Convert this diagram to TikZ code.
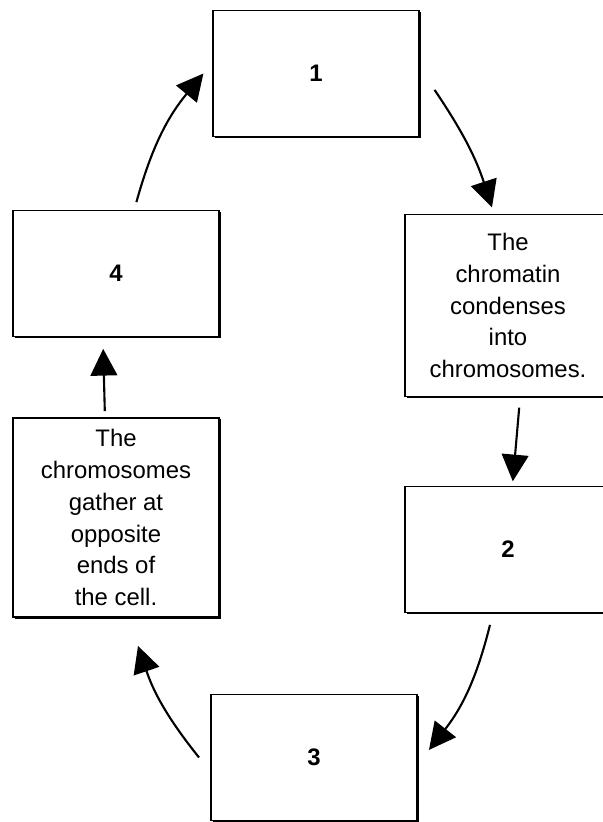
\documentclass[tikz,border=0pt]{standalone}
\usepackage{fontspec}
\setmainfont{Liberation Sans}
\usetikzlibrary{positioning,arrows.meta,shadows}

\begin{document}
\begin{tikzpicture}
	[node distance=3cm,on grid,
	 stage/.style={draw,fill=white,line width=1.1pt,minimum width=5.15cm,minimum height=3.15cm,
	   align=center,font=\fontsize{17}{22.7}\selectfont,
	   drop shadow={shadow xshift=1.1pt,shadow yshift=-1.1pt,opacity=1,fill=black}},
	 flow/.style={-{Triangle[length=19pt,width=19pt]},line width=1.5pt}]
	\useasboundingbox (-7.9,1.8375) rectangle (7.175,-18.7125);
	\clip (-7.9,1.8375) rectangle (7.175,-18.7125);
	\node[stage] (s_1) {\textbf{1}};
	\node[stage,minimum height=4.55cm] (cond) [below right=5.8cm and 4.8cm of s_1]
		{The\\chromatin\\condenses\\into\\chromosomes.};
	\node[stage] (s_2) [below=6.1cm of cond] {\textbf{2}};
	\node[stage] (s_3) [below left=5.2cm and 4.85cm of s_2] {\textbf{3}};
	\node[stage,minimum height=4.98cm] (gath) [above left=6cm and 4.95cm of s_3]
		{The\\chromosomes\\gather at\\opposite\\ends of\\the cell.};
	\node[stage] (s_4) [above=6.1cm of gath] {\textbf{4}};
	\path[flow]
	([xshift=0.51cm,yshift=0.19cm]s_4.north) edge [bend left=12] ([xshift=-0.22cm]s_1.west)
	([xshift=0.37cm,yshift=-0.41cm]s_1.east) edge [bend left=8] ([xshift=-0.4cm,yshift=0.16cm]cond.north)
	([xshift=0.28cm,yshift=-0.26cm]cond.south) edge ([xshift=0.12cm,yshift=0.11cm]s_2.north)
	([xshift=-0.45cm,yshift=-0.29cm]s_2.south) edge [bend left=12] ([xshift=0.28cm,yshift=0.19cm]s_3.east)
	([xshift=-0.28cm]s_3.west) edge [bend left=10] ([xshift=0.55cm,yshift=-0.7cm]gath.south)
	([xshift=-0.28cm,yshift=0.15cm]gath.north) edge ([xshift=-0.32cm,yshift=-0.29cm]s_4.south)
	;
\end{tikzpicture}
\end{document}
